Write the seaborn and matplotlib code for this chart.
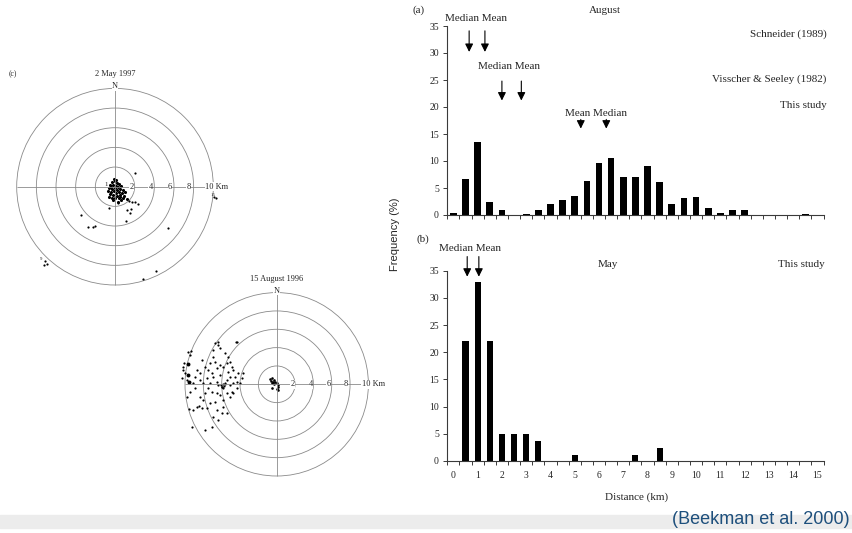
import matplotlib
matplotlib.use('Agg')
import matplotlib.pyplot as plt
from matplotlib.patches import Circle, Rectangle
from matplotlib.ticker import MultipleLocator, FixedLocator
import seaborn as sns
import numpy as np

sns.set_theme(style='white')
plt.rcParams['font.family'] = ['Liberation Serif', 'DejaVu Serif']

# Histogram data: distance bins (km) and frequency (%)
AUG_DIST = [0, 0.5, 1, 1.5, 2, 3, 3.5, 4, 4.5, 5, 5.5, 6, 6.5, 7, 7.5, 8, 8.5,
            9, 9.5, 10, 10.5, 11, 11.5, 12, 14.5]
AUG_FREQ = [0.3, 6.7, 13.5, 2.4, 0.9, 0.25, 0.9, 2.0, 2.7, 3.5, 6.3, 9.7, 10.6,
            7.0, 7.0, 9.1, 6.1, 2.1, 3.2, 3.4, 1.3, 0.4, 0.9, 0.9, 0.2]
MAY_DIST = [0.5, 1, 1.5, 2, 2.5, 3, 3.5, 5, 7.5, 8.5]
MAY_FREQ = [22, 33, 22, 5, 5, 5, 3.6, 1.1, 1.1, 2.4]

# median / mean markers (km)
SCHNEIDER = [0.65, 1.3]      # median, mean
VISSCHER = [2.0, 2.8]        # median, mean
AUG_STUDY = [5.25, 6.3]      # mean, median
MAY_STUDY = [0.57, 1.05]     # median, mean

RING_RADII = [2, 4, 6, 8, 10]

# 2 May 1997 - recruitment locations (km east, km north)
MAY_X = [-0.3, 0.0, 0.2, 0.4, -0.5, -0.2, 0.1, 0.3, 0.6, -0.6, -0.3, 0.0, 0.2, 0.5,
         0.8, -0.7, -0.4, -0.1, 0.1, 0.4, 0.7, 1.0, -0.5, -0.2, 0.2, 0.5, 0.9, -0.3,
         0.0, 0.4, 0.8, 1.2, -0.6, 0.6, -0.2, 0.3, -0.1, 0.1, 0.5, -0.4]
MAY_Y = [0.5, 0.6, 0.4, 0.3, 0.2, 0.2, 0.1, 0.0, 0.1, -0.1, -0.2, -0.1, -0.3, -0.2,
         -0.3, -0.4, -0.5, -0.4, -0.6, -0.5, -0.6, -0.5, -0.7, -0.8, -0.9, -0.8, -0.9,
         -1.1, -1.2, -1.1, -1.2, -1.3, -1.0, -1.4, -1.4, -1.6, 0.8, 0.7, -1.0, 0.0]
MAY_OUT_X = [2.0, 1.4, 1.7, 2.0, 2.3, 1.25, 1.5, 1.6, 1.1, -0.6, -3.5, -2.7, -2.2,
             -2.0, 5.4, 4.2, 2.8, -7.1, -6.9, -7.2, 10.3, 10.1, 0.3]
MAY_OUT_Y = [1.4, -1.5, -1.6, -1.6, -1.8, -2.4, -2.7, -2.3, -3.5, -2.2, -2.9, -4.1,
             -4.1, -4.0, -4.2, -8.6, -9.4, -7.6, -7.9, -8.0, -1.1, -1.0, -1.7]

# 15 August 1996 - recruitment locations (km east, km north)
AUG_X = [-6.73, -6.36, -4.36, -6.91, -6.73, -8.18, -7.82, -8.73, -8.36, -7.45, -7.09,
         -6.55, -6.18, -5.82, -5.45, -5.09, -5.27, -6.18, -6.91, -7.64, -8.36, -8.91,
         -9.09, -8.0, -7.27, -6.55, -6.36, -6.0, -5.82, -5.64, -5.45, -5.09, -4.73,
         -4.36, -4.0, -3.64, -7.45, -7.82, -7.09, -6.55, -6.18, -5.45, -5.09, -4.91,
         -5.82, -6.73, -7.27, -8.0, -8.36, -8.73, -7.64, -6.55, -5.82, -5.45, -6.91,
         -9.09, -9.27, -8.18, -8.91, -9.45, -9.82, -10.18, -10.0, -10.36, -9.82,
         -9.64, -9.45, -10.11, -10.25, -4.73, -4.55, -4.18, -3.82, -5.09, -4.91,
         -6.18, -5.64, -5.27, -6.91, -7.27, -4.36, -4.73, -6.0, -6.36, -7.09, -7.82,
         -6.4, -4.4, -9.35, -9.6, -8.5, -5.9, -6.1, -5.6, -6.0, -5.7]
AUG_Y = [4.47, 4.29, 4.65, 3.02, 2.47, 2.65, 1.93, 1.56, 1.2, 1.56, 1.2, 1.75, 2.11,
         1.93, 2.29, 2.47, 1.38, 1.02, 0.84, 0.65, 0.47, 0.84, 0.11, 0.11, 0.11, 0.29,
         -0.07, -0.25, -0.44, 0.11, 0.47, -0.07, 0.11, 0.29, 0.11, 1.2, -0.44, -0.98,
         -0.8, -0.98, -1.16, -0.98, -1.35, -0.8, -1.71, -1.89, -2.07, -1.71, -1.35,
         -2.44, -2.62, -2.8, -2.44, -3.16, -3.53, -2.8, -4.62, -2.62, -0.44, -0.8,
         -1.35, 1.93, 1.2, 0.65, 0.47, 3.56, 3.2, 2.36, 1.56, 1.56, 0.84, 1.2, 0.65,
         0.84, 1.93, 3.93, 3.38, 3.02, 3.75, 2.29, -0.44, -0.98, -3.16, -3.89, -4.62,
         -4.98, 4.65, 4.65, 3.67, -2.7, -2.4, 0.0, -0.1, 0.05, -0.3, -0.2]
AUG_HIVE_X = [-0.7, -0.5, -0.3, -0.6, -0.4, -0.2, 0.0, -0.5, -0.3, 0.1, -0.5, 0.0,
              0.1, 0.15]
AUG_HIVE_Y = [0.6, 0.65, 0.5, 0.35, 0.3, 0.25, 0.15, 0.1, 0.0, -0.05, -0.4, -0.55,
              -0.25, -0.6]
AUG_EDGE_X = [-9.7, -9.7, -9.6]
AUG_EDGE_Y = [2.2, 1.0, 0.3]

fig = plt.figure(figsize=(8.52, 5.33), dpi=100)
W, H = 852, 533


def px_axes(left, top, right, bottom):
    return fig.add_axes([left / W, 1 - bottom / H, (right - left) / W, (bottom - top) / H])


line_col = '#3a3a3a'


def style_hist(ax, show_labels):
    ax.set_xlim(-0.25, 15.25)
    ax.set_ylim(0, 35)
    sns.despine(ax=ax)
    for s in ['left', 'bottom']:
        ax.spines[s].set_color(line_col)
        ax.spines[s].set_linewidth(0.8)
    ax.yaxis.set_major_locator(MultipleLocator(5))
    ax.xaxis.set_major_locator(MultipleLocator(1))
    ax.xaxis.set_minor_locator(FixedLocator(np.arange(-0.25, 15.3, 0.5)))
    ax.tick_params(axis='y', direction='out', length=3, width=0.7, color=line_col,
                   labelsize=7, pad=3, left=True)
    ax.tick_params(axis='x', which='major', length=0, labelsize=7, pad=7, bottom=True)
    ax.tick_params(axis='x', which='minor', direction='out', length=3, width=0.7,
                   color=line_col, bottom=True)
    if not show_labels:
        ax.set_xticklabels([])
    ax.set_xlabel('')
    ax.set_ylabel('')


def arrows(ax, xs, y0, y1):
    for x in xs:
        ax.annotate('', xy=(x, y1), xytext=(x, y0),
                    arrowprops=dict(arrowstyle='-|>', color='black', lw=0.8,
                                    mutation_scale=12, shrinkA=0, shrinkB=0))


# ---- (a) August histogram ----
ax_a = px_axes(447.3, 26, 823.5, 215)
sns.barplot(x=AUG_DIST, y=AUG_FREQ, native_scale=True, color='black', saturation=1,
            width=0.55, errorbar=None, linewidth=0, ax=ax_a)
style_hist(ax_a, False)
fs = 8
ax_a.text(0.93, 36.4, 'Median Mean', ha='center', va='center', fontsize=fs, clip_on=False)
arrows(ax_a, SCHNEIDER, 34.1, 30.2)
ax_a.text(2.31, 27.5, 'Median Mean', ha='center', va='center', fontsize=fs)
arrows(ax_a, VISSCHER, 24.8, 21.2)
ax_a.text(5.86, 18.8, 'Mean Median', ha='center', va='center', fontsize=fs)
arrows(ax_a, AUG_STUDY, 17.7, 16.0)
ax_a.text(6.25, 37.8, 'August', ha='center', va='center', fontsize=fs, clip_on=False)
ax_a.text(15.38, 33.5, 'Schneider (1989)', ha='right', va='center', fontsize=fs)
ax_a.text(15.38, 25.2, 'Visscher & Seeley (1982)', ha='right', va='center', fontsize=fs)
ax_a.text(15.38, 20.2, 'This study', ha='right', va='center', fontsize=fs)

# ---- (b) May histogram ----
ax_b = px_axes(447.3, 270.7, 823.5, 461)
sns.barplot(x=MAY_DIST, y=MAY_FREQ, native_scale=True, color='black', saturation=1,
            width=0.5, errorbar=None, linewidth=0, ax=ax_b)
style_hist(ax_b, True)
ax_b.text(0.68, 39.0, 'Median Mean', ha='center', va='center', fontsize=fs, clip_on=False)
arrows(ax_b, MAY_STUDY, 37.6, 33.9)
ax_b.text(6.35, 36.2, 'May', ha='center', va='center', fontsize=fs, clip_on=False)
ax_b.text(15.31, 36.2, 'This study', ha='right', va='center', fontsize=fs, clip_on=False)

fig.text(419 / W, 1 - 10 / H, '(a)', ha='center', va='center', fontsize=fs)
fig.text(423 / W, 1 - 239 / H, '(b)', ha='center', va='center', fontsize=fs)
fig.text(395 / W, 1 - 234 / H, 'Frequency (%)', rotation=90, ha='center', va='center',
         fontsize=8, family=['Liberation Sans', 'DejaVu Sans'])
fig.text(636.7 / W, 1 - 497 / H, 'Distance (km)', ha='center', va='center', fontsize=fs)


# ---- (c) recruitment maps ----
def polar_map(cx, cy, km_px, title, lbl_x, ten_x):
    half = 11 * km_px
    ax = px_axes(cx - half, cy - half, cx + half, cy + half)
    ax.set_xlim(-11, 11)
    ax.set_ylim(-11, 11)
    ax.axis('off')
    ring_col = '#8a8a8a'
    for r in RING_RADII:
        ax.add_patch(Circle((0, 0), r, fill=False, ec=ring_col, lw=0.6))
    rmax = RING_RADII[-1]
    ax.hlines(0, -rmax, rmax + 1.0, color=ring_col, lw=0.6)
    ax.vlines(0, -rmax, rmax, color=ring_col, lw=0.6)
    ax.text(0, rmax + 0.2, 'N', ha='center', va='center', fontsize=6,
            bbox=dict(fc='white', ec='none', pad=0.3))
    ax.text(0, 11.45, title, ha='center', va='center', fontsize=6, clip_on=False)
    for r, x in zip(RING_RADII[:-1], lbl_x):
        ax.text(x, 0, str(r), ha='center', va='center', fontsize=6,
                bbox=dict(fc='white', ec='none', pad=0.2))
    ax.text(ten_x, 0, '10 Km', ha='left', va='center', fontsize=6, clip_on=False,
            bbox=dict(fc='white', ec='none', pad=0.2))
    return ax


ax_c1 = polar_map(115, 186.7, 9.83, '2 May 1997', [1.7, 3.63, 5.6, 7.5], 9.15)
sns.scatterplot(x=MAY_X, y=MAY_Y, color='black', s=5, linewidth=0, legend=False, ax=ax_c1)
sns.scatterplot(x=MAY_OUT_X, y=MAY_OUT_Y, color='black', s=2.5, linewidth=0,
                legend=False, ax=ax_c1)
ax_c1.text(-0.9, 0.25, '1', ha='center', va='center', fontsize=5)
ax_c1.text(10.0, -0.8, '15', ha='center', va='center', fontsize=3.5)
ax_c1.text(-7.5, -7.4, '9', ha='center', va='center', fontsize=3.5)
ax_c1.text(-10.35, 11.45, '(c)', ha='center', va='center', fontsize=5.5, clip_on=False)

ax_c2 = polar_map(276.7, 384.3, 9.17, '15 August 1996', [1.75, 3.75, 5.67, 7.56], 9.27)
sns.scatterplot(x=AUG_X, y=AUG_Y, color='black', s=2.5, linewidth=0, legend=False, ax=ax_c2)
sns.scatterplot(x=AUG_HIVE_X, y=AUG_HIVE_Y, color='black', s=3.5, linewidth=0,
                legend=False, ax=ax_c2)
sns.scatterplot(x=AUG_EDGE_X, y=AUG_EDGE_Y, color='black', s=8, linewidth=0,
                legend=False, ax=ax_c2)

# ---- source band ----
fig.add_artist(Rectangle((0, 1 - 528 / H), 1, 13 / H, transform=fig.transFigure,
                         color='#ececec', zorder=0))
fig.text(850 / W, 1 - 519 / H, '(Beekman et al. 2000)', ha='right', va='center',
         fontsize=13, color='#1d4f7c', family=['Liberation Sans', 'DejaVu Sans'])

fig.savefig('out.png', dpi=100)
